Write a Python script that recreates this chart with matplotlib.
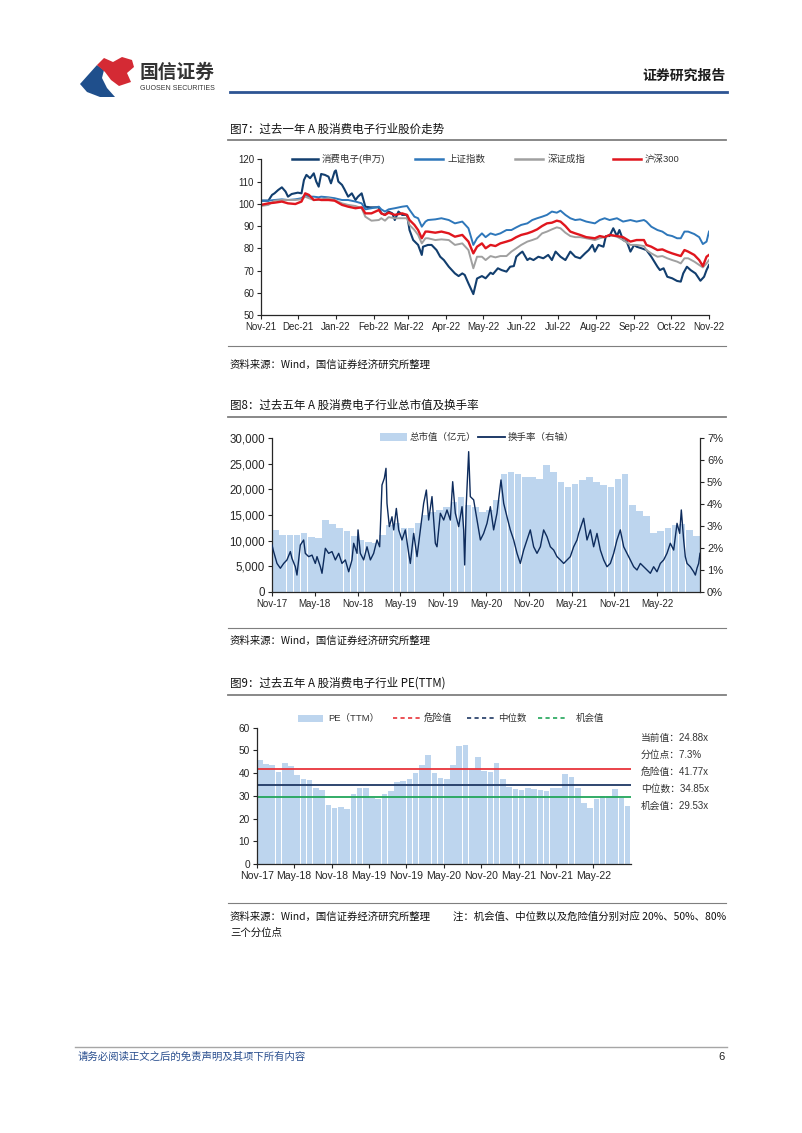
import numpy as np
import pandas as pd
import matplotlib
matplotlib.use('Agg')
import matplotlib.pyplot as plt
from matplotlib.patches import Polygon, Rectangle
from matplotlib.lines import Line2D
from matplotlib.ticker import FuncFormatter, FixedLocator, MultipleLocator

# ---------------- data: chart 1 (index, 2021-11-01 = 100) ----------------
START1 = '2021-11-01'
cons_days = [0, 6, 9, 11, 14, 17, 20, 22, 25, 30, 33, 35, 37, 40, 43, 45, 47, 49, 52, 55,
             57, 60, 61, 63, 66, 68, 71, 74, 77, 79, 82, 85, 89, 96, 98, 101, 104, 107, 109, 112,
             115, 119, 121, 124, 128, 131, 132, 136, 139, 143, 146, 149, 153, 158, 161, 164, 166, 169, 173, 176,
             180, 183, 187, 189, 193, 196, 200, 203, 206, 208, 211, 213, 217, 219, 222, 226, 230, 234, 237, 240,
             244, 248, 252, 256, 260, 264, 267, 270, 272, 275, 279, 281, 284, 287, 290, 292, 295, 298, 301, 304,
             306, 310, 314, 318, 323, 325, 328, 331, 335, 339, 342, 344, 347, 350, 354, 358, 361, 363, 365]
cons_vals = [101.4, 101.4, 104, 104.7, 106.2, 107.4, 105.5, 103.2, 104.4, 105, 104.7, 110.7, 113, 111.5, 113.7, 110, 107.7, 113.4, 113, 112.2,
             109.2, 114.5, 115, 110, 108.5, 106.5, 103.2, 104.7, 101.7, 103.2, 104.7, 98.7, 98.4, 98.4, 95.7, 95, 96.5, 95.7, 92.7, 96.5,
             95, 95, 88.2, 83.7, 81.5, 77, 80.7, 81.5, 81.5, 79.2, 76.2, 74.7, 71.7, 68.7, 67.5, 68.7, 68, 64.2, 59.4, 66.4,
             67.5, 66.5, 69, 68.4, 71, 70.2, 69.5, 71.7, 72, 76.2, 77.7, 78.5, 74.7, 75.5, 74.7, 76.2, 75.5, 77, 74.7, 78.5,
             76.2, 74.7, 78.5, 76.2, 75.5, 77.7, 79.2, 81.5, 78.5, 81.5, 80.7, 85.5, 85.5, 89, 85.5, 88.2, 83.7, 83, 78.5, 81.5,
             80.7, 80, 79.2, 76.2, 71.7, 70.2, 71, 67.2, 66.5, 65.3, 65, 68.7, 71.7, 70.2, 68.7, 65.4, 67.2, 70.2, 72.5]

idx_days = [0, 6, 11, 17, 22, 28, 33, 36, 39, 43, 47, 49, 55, 60, 66, 71, 77, 82, 85, 90,
            96, 98, 101, 104, 109, 115, 119, 121, 125, 128, 131, 134, 136, 142, 147, 153, 158, 164, 169, 173,
            176, 180, 183, 187, 191, 195, 200, 204, 208, 212, 217, 221, 225, 229, 233, 237, 241, 244, 248, 252,
            256, 260, 265, 272, 276, 280, 284, 290, 295, 301, 306, 312, 314, 318, 323, 327, 331, 335, 339, 342,
            345, 348, 353, 357, 360, 363, 365]
sh_vals = [101.4, 101.4, 101.7, 102, 101.7, 102, 102.5, 104, 103.2, 103.2, 102.9, 103.2, 102.9, 102.5, 101.7, 101.7, 101, 100.2, 97.5, 98,
           98.7, 97.5, 96.5, 97.5, 98, 98.7, 99, 97.3, 94.2, 93.5, 89.7, 92, 92.7, 93, 93.5, 92.7, 91.2, 92, 89, 81.5,
           84.5, 86.7, 85, 86.7, 86, 86.7, 88.2, 88.2, 89.4, 90.5, 91.2, 92.7, 93.5, 94.2, 95, 96.5, 96, 96.9, 95, 93.5,
           92.7, 93, 92, 91.2, 92.7, 93.5, 92.7, 93.5, 92, 92.7, 92, 92.7, 92, 89.7, 88.2, 87.5, 86, 85.5, 84.5, 84.5,
           87.5, 87.5, 86.4, 85, 81.9, 83, 87.5]
sz_vals = [99, 99.5, 101.4, 101.7, 101.7, 101.7, 102, 103.2, 102.5, 101.7, 101.7, 102, 102.5, 101.7, 100.2, 99.5, 99, 98, 94.2, 92.4,
           92.7, 93.5, 92.4, 94, 93.5, 93.5, 93.5, 90.5, 88.2, 86, 82.2, 84.5, 84.5, 83.7, 84, 83.7, 81.5, 82.2, 79.2, 71,
           76.2, 76.2, 74.7, 76.5, 75.9, 76.5, 76.5, 78.5, 80, 81.5, 83, 83.7, 84.5, 86.7, 87.5, 88.5, 89.4, 89, 87, 85.5,
           85, 85, 84.5, 83.7, 84.5, 85, 86, 85.2, 83.7, 81.5, 81.5, 81, 79.2, 77.7, 76.2, 76.5, 75.5, 74.7, 74, 73.2,
           75.5, 75.5, 74, 72.5, 71.4, 73.2, 74.7]
hs_vals = [99.5, 100.2, 100.5, 101, 100.2, 99.9, 101, 104.7, 104, 101.7, 102, 101.7, 101.7, 101.4, 99.5, 98.7, 98, 98.4, 95.7, 95.7,
           97.2, 95.7, 95, 96, 95, 95.7, 95, 92.7, 90.5, 88.2, 84.5, 87.5, 87.5, 87, 87.5, 86.7, 85.2, 86, 83, 77.7,
           80.7, 82.2, 80, 81.5, 81, 82.2, 83, 83.7, 85, 86, 86.7, 87.5, 88.5, 90, 91.2, 91.5, 92.4, 92, 90, 87.5,
           86.7, 86, 85, 84.5, 85.5, 85, 86, 85.5, 85, 83, 83.7, 83.7, 81.5, 80.7, 79.2, 79.5, 78.5, 77.7, 77, 76.5,
           79.2, 78.5, 77, 74.7, 72, 76.2, 77]
series1_names = ['消费电子(申万)', '上证指数', '深证成指', '沪深300']
months1 = ['Nov-21', 'Dec-21', 'Jan-22', 'Feb-22', 'Mar-22', 'Apr-22', 'May-22', 'Jun-22',
           'Jul-22', 'Aug-22', 'Sep-22', 'Oct-22', 'Nov-22']

# ---------------- data: chart 2 (month index, 0 = Nov-17) ----------------
cap_vals = [12000, 11100, 11000, 11000, 11500, 10700, 10500, 14000, 13200, 12500,
            11800, 10800, 10200, 9800, 9600, 11000, 13000, 13500, 12500, 12500,
            13500, 15000, 15500, 16000, 16500, 17500, 18500, 17000, 16500, 15500,
            16000, 18000, 23000, 23500, 23000, 22500, 22500, 22000, 24800, 23500,
            21500, 20500, 21000, 21800, 22500, 21500, 20800, 20500, 22000, 23000,
            17000, 15800, 14800, 11500, 11800, 12500, 13000, 13300, 12000, 10800]
turn_month = [0, 0.23, 0.70, 1.17, 1.64, 2.10, 2.57, 2.80, 3.27, 3.50, 3.97, 4.44, 4.67, 5.14, 5.61, 6.07, 6.31, 6.78, 7.01, 7.48,
              7.94, 8.41, 8.88, 9.35, 9.81, 10.28, 10.75, 11.21, 11.45, 11.92, 12.06, 12.38, 12.85, 13.32, 13.79, 14.25, 14.72, 15.09, 15.42, 15.75,
              15.98, 16.12, 16.45, 16.82, 17.06, 17.43, 17.76, 18.22, 18.69, 19.16, 19.39, 19.86, 20.33, 20.79, 21.26, 21.64, 21.96, 22.43, 22.90, 23.13,
              23.60, 24.07, 24.53, 25.00, 25.33, 25.70, 26.17, 26.64, 26.87, 27.01, 27.24, 27.57, 27.80, 28.27, 28.74, 29.21, 29.67, 30.14, 30.61, 31.07,
              31.54, 32.10, 32.48, 32.94, 33.41, 33.88, 34.35, 34.81, 35.28, 35.75, 36.21, 36.68, 37.15, 37.62, 38.08, 38.55, 39.02, 39.49, 39.95, 40.42,
              40.89, 41.36, 41.82, 42.29, 42.76, 42.99, 43.69, 44.16, 44.63, 45.09, 45.56, 46.03, 46.50, 46.96, 47.43, 47.90, 48.36, 48.83, 49.30, 49.77,
              50.23, 50.70, 51.17, 51.64, 52.10, 52.57, 53.04, 53.50, 53.97, 54.44, 54.91, 55.37, 55.84, 56.31, 56.78, 57.15, 57.38, 57.71, 57.94, 58.18,
              58.64, 59.11, 59.35, 59.58, 59.81, 60.0]
turn_pct = [2.13, 1.83, 1.29, 1.07, 1.29, 1.45, 1.83, 1.52, 1.14, 0.76, 2.13, 2.36, 1.75, 1.6, 1.67, 1.29, 1.6, 1.14, 0.84, 1.98,
            1.75, 1.83, 1.45, 1.75, 1.29, 1.45, 0.91, 1.45, 2.21, 1.75, 2.82, 1.75, 1.45, 2.05, 1.45, 1.75, 2.36, 2.05, 4.87, 5.18,
            5.63, 4.03, 2.97, 3.42, 2.82, 3.8, 2.82, 2.36, 2.82, 1.75, 1.29, 2.66, 1.6, 2.82, 4.03, 4.64, 3.27, 4.34, 2.21, 2.05,
            3.58, 3.27, 3.73, 3.27, 5.02, 3.58, 2.97, 3.88, 2.82, 1.22, 4.03, 6.39, 4.34, 4.19, 3.27, 2.36, 2.66, 3.12, 3.88, 2.82,
            3.58, 5.1, 4.03, 3.42, 2.82, 2.36, 1.75, 1.29, 1.9, 2.36, 2.82, 2.05, 1.75, 2.05, 2.82, 2.51, 2.05, 1.9, 1.6, 1.45,
            1.29, 1.45, 1.6, 2.05, 2.36, 2.66, 3.35, 2.36, 2.82, 2.05, 2.66, 1.9, 1.45, 1.14, 1.29, 1.75, 2.36, 2.82, 2.05, 1.75,
            1.45, 1.14, 0.99, 1.29, 1.14, 0.99, 0.84, 1.14, 0.91, 1.29, 1.45, 1.75, 2.21, 1.9, 3.12, 2.66, 3.73, 2.36, 1.6, 1.29,
            1.14, 0.91, 0.76, 1.07, 1.29, 1.75]
tick_months = [0, 6, 12, 18, 24, 30, 36, 42, 48, 54]
tick_labels5y = ['Nov-17', 'May-18', 'Nov-18', 'May-19', 'Nov-19', 'May-20', 'Nov-20', 'May-21', 'Nov-21', 'May-22']
series2_names = ['总市值（亿元）', '换手率（右轴）']

# ---------------- data: chart 3 (PE TTM, monthly) ----------------
pe_vals = [46, 44, 43.5, 40.5, 44.5, 43, 39, 37.5, 37, 33.5,
           32.5, 26, 24.5, 25, 24, 31, 33.5, 33.5, 29, 28.5,
           31, 32, 36, 36.5, 37.5, 40, 43.5, 48, 40, 38,
           37.5, 43.5, 52, 52.5, 42, 47, 41, 40.5, 44.5, 37.5,
           34, 33, 32.5, 33.5, 33, 32.5, 32, 33.5, 33.5, 39.5,
           38.5, 33.5, 27, 24.5, 28.5, 30, 30, 33, 29, 25.5]
pe_danger, pe_median, pe_chance = 41.77, 34.85, 29.53
pe_current, pe_pct = 24.88, 7.3
series3_names = ['PE（TTM）', '危险值', '中位数', '机会值']

# ---------------- page setup ----------------
W, H = 802, 1133
CJK = ['Noto Sans CJK SC', 'DejaVu Sans']
NUM = ['Liberation Sans', 'Noto Sans CJK SC', 'DejaVu Sans']
plt.rcParams['font.family'] = NUM
plt.rcParams['axes.unicode_minus'] = False

fig = plt.figure(figsize=(W / 100, H / 100), dpi=100)
fig.patch.set_facecolor('white')


def fx(x):
    return x / W


def fy(y):
    return 1 - y / H


def axes_px(l, t, r, b):
    return fig.add_axes([fx(l), fy(b), (r - l) / W, (b - t) / H])


def text_px(x, y, s, **kw):
    kw.setdefault('va', 'center')
    fig.text(fx(x), fy(y), s, **kw)


def hline_px(x0, x1, y, **kw):
    fig.add_artist(Line2D([fx(x0), fx(x1)], [fy(y), fy(y)], transform=fig.transFigure, **kw))


def patch_px(x0, x1, y, h, color):
    fig.add_artist(Rectangle((fx(x0), fy(y + h / 2)), (x1 - x0) / W, h / H,
                             transform=fig.transFigure, color=color, lw=0))


def style_axis(ax, xsize=7, ysize=7):
    for s in ['top', 'right']:
        ax.spines[s].set_visible(False)
    for s in ['left', 'bottom']:
        ax.spines[s].set_color('#262626')
        ax.spines[s].set_linewidth(0.9)
    ax.tick_params(direction='out', length=3, width=0.8, colors='#262626', pad=2)
    ax.tick_params(axis='x', labelsize=xsize)
    ax.tick_params(axis='y', labelsize=ysize)


# ---------------- header ----------------
blue_logo = [(80, 84), (97, 65), (104, 70), (102, 78), (107, 88), (115, 97), (100, 97), (87, 92)]
red_logo = [(97, 65), (104, 58), (113, 62), (122, 57), (132, 60), (134, 67), (127, 73), (131, 82),
            (119, 86), (111, 80), (105, 72)]
fig.add_artist(Polygon([(fx(x), fy(y)) for x, y in blue_logo], closed=True,
                       transform=fig.transFigure, color='#1F4F8C', lw=0))
fig.add_artist(Polygon([(fx(x), fy(y)) for x, y in red_logo], closed=True,
                       transform=fig.transFigure, color='#D42A34', lw=0))
text_px(140, 72, '国信证券', family=CJK, fontsize=13.5, color='#333333', fontweight='bold')
text_px(140, 88, 'GUOSEN SECURITIES', family=NUM, fontsize=5, color='#333333')
text_px(726, 76, '证券研究报告', family=CJK, fontsize=10, color='#1a1a1a', fontweight='bold', ha='right')
hline_px(230, 727, 92, color='#2D5493', lw=2.0)

# ---------------- chart 1 ----------------
text_px(230, 129, '图7：过去一年 A 股消费电子行业股价走势', family=CJK, fontsize=8.3, color='#111111')
hline_px(228, 726, 139.5, color='#7F7F7F', lw=1.3)

ax1 = axes_px(261, 159.3, 709, 315)
style_axis(ax1, 7, 7)
d0 = pd.Timestamp(START1)
cons_x = d0 + pd.to_timedelta(cons_days, unit='D')
idx_x = d0 + pd.to_timedelta(idx_days, unit='D')
colors1 = ['#123E6E', '#2E77BA', '#A0A0A0', '#E0161E']
ax1.plot(cons_x, cons_vals, color=colors1[0], lw=1.5)
ax1.plot(idx_x, sh_vals, color=colors1[1], lw=1.4)
ax1.plot(idx_x, sz_vals, color=colors1[2], lw=1.4)
ax1.plot(idx_x, hs_vals, color=colors1[3], lw=1.7)
tick1 = pd.date_range(START1, periods=len(months1), freq='MS')
ax1.set_xlim(tick1[0], tick1[-1])
ax1.set_ylim(50, 120)
ax1.yaxis.set_major_locator(MultipleLocator(10))
ax1.set_xticks(tick1)
ax1.set_xticklabels(months1)

leg1 = [(292, 318, 322), (415, 443, 447), (515, 543, 548), (613, 641, 645)]
for (a, b, t), c, n in zip(leg1, colors1, series1_names):
    hline_px(a, b, 159, color=c, lw=1.8)
    text_px(t, 159, n, family=NUM, fontsize=6.8, color='#333333')

hline_px(228, 726, 346, color='#7F7F7F', lw=0.8)
text_px(230, 365, '资料来源：Wind，国信证券经济研究所整理', family=CJK, fontsize=7.5, color='#111111')

# ---------------- chart 2 ----------------
text_px(230, 405, '图8：过去五年 A 股消费电子行业总市值及换手率', family=CJK, fontsize=8.3, color='#111111')
hline_px(228, 726, 417, color='#7F7F7F', lw=1.3)

ax2 = axes_px(272, 438.3, 700, 591.7)
style_axis(ax2, 7, 8.3)
bar_color = '#BDD5EE'
ax2.bar(np.arange(len(cap_vals)) + 0.5, cap_vals, width=0.93, color=bar_color, lw=0)
ax2.set_xlim(0, 60)
ax2.set_ylim(0, 30000)
ax2.yaxis.set_major_locator(MultipleLocator(5000))
ax2.yaxis.set_major_formatter(FuncFormatter(lambda v, p: f'{v:,.0f}'))
ax2.xaxis.set_major_locator(FixedLocator(tick_months))
ax2.set_xticklabels(tick_labels5y)
ax2r = ax2.twinx()
ax2r.plot(turn_month, turn_pct, color='#0D2B5C', lw=1.0)
ax2r.set_ylim(0, 7)
ax2r.set_xlim(0, 60)
ax2r.yaxis.set_major_locator(MultipleLocator(1))
ax2r.yaxis.set_major_formatter(FuncFormatter(lambda v, p: f'{v:.0f}%'))
for s in ['top', 'left', 'bottom']:
    ax2r.spines[s].set_visible(False)
ax2r.spines['right'].set_color('#262626')
ax2r.spines['right'].set_linewidth(0.9)
ax2r.tick_params(direction='out', length=3, width=0.8, labelsize=8, colors='#262626', pad=2)

patch_px(380, 407, 437, 7, bar_color)
text_px(410, 437, series2_names[0], family=NUM, fontsize=6.8, color='#333333')
hline_px(478, 505, 437, color='#0D2B5C', lw=1.3)
text_px(508, 437, series2_names[1], family=NUM, fontsize=6.8, color='#333333')

hline_px(228, 726, 628, color='#7F7F7F', lw=0.8)
text_px(230, 641, '资料来源：Wind，国信证券经济研究所整理', family=CJK, fontsize=7.5, color='#111111')

# ---------------- chart 3 ----------------
text_px(230, 683, '图9：过去五年 A 股消费电子行业 PE(TTM)', family=CJK, fontsize=8.3, color='#111111')
hline_px(228, 726, 695, color='#7F7F7F', lw=1.3)

ax3 = axes_px(256.7, 727.7, 630.7, 864)
style_axis(ax3, 7.6, 7.3)
ax3.bar(np.arange(len(pe_vals)) + 0.5, pe_vals, width=0.9, color=bar_color, lw=0)
line_cols = ['#E8343A', '#1F3864', '#22A65A']
for v, c in zip([pe_danger, pe_median, pe_chance], line_cols):
    ax3.axhline(v, color=c, lw=1.3)
ax3.set_xlim(0, 60)
ax3.set_ylim(0, 60)
ax3.yaxis.set_major_locator(MultipleLocator(10))
ax3.xaxis.set_major_locator(FixedLocator(tick_months))
ax3.set_xticklabels(tick_labels5y)

patch_px(298, 323, 718, 7, bar_color)
text_px(328, 718, series3_names[0], family=NUM, fontsize=6.8, color='#333333')
for (a, b, t), c, n in zip([(393, 420, 424), (467, 494, 498), (538, 565, 576)], line_cols, series3_names[1:]):
    hline_px(a, b, 718, color=c, lw=1.2, ls=(0, (2.5, 2)))
    text_px(t, 718, n, family=NUM, fontsize=6.8, color='#333333')

right_txt = [f'当前值：{pe_current:.2f}x', f'分位点：{pe_pct:.1f}%', f'危险值：{pe_danger:.2f}x',
             f'中位数：{pe_median:.2f}x', f'机会值：{pe_chance:.2f}x']
for i, s in enumerate(right_txt):
    text_px(641, 738 + i * 17, s, family=NUM, fontsize=7, color='#333333')

hline_px(228, 726, 903, color='#7F7F7F', lw=0.8)
text_px(230, 917, '资料来源：Wind，国信证券经济研究所整理', family=CJK, fontsize=7.5, color='#111111')
text_px(726, 917, '注：机会值、中位数以及危险值分别对应 20%、50%、80%', family=CJK, fontsize=7.5,
        color='#111111', ha='right')
text_px(230, 933, '三个分位点', family=CJK, fontsize=7.5, color='#111111')

# ---------------- footer ----------------
hline_px(75, 727, 1047, color='#A6A6A6', lw=1.0)
text_px(78, 1057, '请务必阅读正文之后的免责声明及其项下所有内容', family=CJK, fontsize=7.5, color='#2A4F8F')
text_px(725, 1057, '6', family=NUM, fontsize=8, color='#222222', ha='right')

fig.savefig('out.png', dpi=100, facecolor='white')
